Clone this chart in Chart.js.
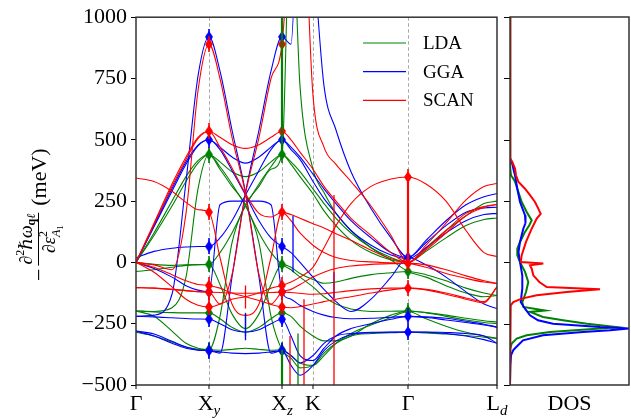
<!DOCTYPE html>
<html>
<head>
<meta charset="utf-8">
<script src="https://cdn.jsdelivr.net/npm/chart.js@4.4.1/dist/chart.umd.min.js"></script>
<style>
  html, body { margin: 0; padding: 0; background: #fff; }
  #wrap { position: relative; width: 631px; height: 418px; }
  #bands { position: absolute; left: 0; top: 0; }
  #dos { position: absolute; left: 500px; top: 0; }
  #probe { position: absolute; left: -999px; top: 0; font-family: "Liberation Serif"; }
</style>
</head>
<body>
<div id="wrap">
  <canvas id="bands" width="631" height="418"></canvas>
  <canvas id="dos" width="131" height="418"></canvas>
</div>
<span id="probe">Γ ∂ℏω 1000</span>
<script>
// path coordinate of each sample (high-symmetry points at 0, 73, 146, 177, 272, 361)
const pathPos = [0, 18, 36, 50, 62, 73, 84, 96, 109.5, 123, 135, 146, 155, 164, 177, 188, 200, 215, 235, 255, 272, 290, 310, 330, 348, 361];
const xTickPos = [0, 73, 146, 177, 272, 361];
const xTickMain = ['Γ', 'X', 'X', 'K', 'Γ', 'L'];
const xTickSub = ['', 'y', 'z', '', '', 'd'];
const yTicks = [-500, -250, 0, 250, 500, 750, 1000];

// LDA bands (meV) read at pathPos
const ldaBands = [
  [-198,-200,-185,-60,300,440,380,310,235,80,-220,-356,-390,-430,-420,-370,-330,-300,-290,-287,-285,-288,-292,-298,-305,-310],
  [-285,-300,-325,-345,-354,-356,-220,80,235,310,380,440,1500,720,380,285,200,130,60,10,-37,-60,-95,-125,-140,-135],
  [0,120,250,350,415,440,410,370,350,370,410,440,410,370,300,240,180,120,60,20,0,60,130,190,240,250],
  [0,110,230,330,405,440,390,320,230,120,40,-8,-30,-60,-100,-140,-170,-190,-200,-199,-198,-205,-215,-228,-238,-243],
  [-37,-30,-20,-12,-9,-8,40,120,230,320,390,440,400,350,280,210,150,90,40,10,0,45,100,150,175,181],
  [-198,-202,-205,-206,-206,-206,-230,-265,-285,-265,-230,-206,-220,-260,-300,-320,-320,-300,-250,-215,-198,-205,-220,-235,-245,-250],
  [-198,-220,-280,-330,-350,-356,-358,-355,-350,-355,-358,-356,-380,-410,-420,-380,-330,-290,-255,-225,-200,-230,-260,-285,-300,-310],
  [0,-8,-12,-10,-9,-8,-90,-210,-270,-210,-90,-8,-20,-45,-70,-85,-80,-65,-50,-42,-37,-50,-75,-105,-125,-135]
];

// GGA bands
const ggaBands = [
  [-220,-215,-130,330,760,920,780,540,285,-60,-370,-360,-420,-460,-420,-360,-320,-295,-285,-284,-284,-285,-290,-300,-315,-330],
  [-280,-292,-322,-345,-357,-360,-370,-60,285,540,780,920,890,1600,1250,720,540,370,220,100,20,80,150,205,222,225],
  [0,150,300,410,478,500,470,430,405,430,470,500,470,430,360,300,240,170,100,40,20,90,170,235,268,281],
  [0,145,290,400,475,500,460,375,275,170,100,65,40,0,-60,-110,-160,-200,-150,-60,20,-10,-60,-120,-170,-188],
  [19,45,58,63,65,65,100,170,275,375,460,500,460,420,330,260,200,130,70,30,15,60,120,170,195,200],
  [0,-25,-60,-95,-113,-120,235,250,250,250,235,-120,-150,-175,-200,-215,-225,-230,-228,-224,-220,-225,-235,-245,-255,-264],
  [-220,-222,-226,-229,-231,-232,-250,-275,-284,-275,-250,-232,-300,-380,-400,-350,-300,-270,-250,-232,-220,-222,-228,-240,-252,-264],
  [-280,-300,-330,-350,-358,-360,-365,-370,-372,-370,-365,-360,-380,-410,-380,-330,-300,-290,-287,-285,-284,-284,-286,-290,-300,-330]
];

// SCAN bands
const scanBands = [
  [0,-10,-30,200,700,890,750,510,280,-50,-170,-121,-110,-90,-60,-40,-25,-15,-8,-5,-4,-10,-30,-55,-75,-86],
  [-103,-105,-110,-115,-119,-121,-170,-50,280,510,750,890,1400,1700,680,470,400,330,230,110,0,70,160,255,310,322],
  [0,160,320,430,510,535,510,480,465,480,510,535,500,450,380,310,250,180,110,40,0,55,130,200,228,236],
  [0,155,310,420,505,535,470,385,280,200,185,205,195,180,158,140,117,90,50,15,0,50,120,190,225,236],
  [344,330,290,245,215,205,20,-170,-216,-170,20,205,170,120,70,40,20,8,2,-2,-4,-20,-45,-65,-80,-86],
  [0,-40,-100,-150,-175,-182,-170,-150,-140,-125,-105,-94,-80,-60,-20,60,150,240,310,340,348,320,250,130,40,24],
  [0,-20,-50,-75,-90,-94,-105,-125,-140,-155,-172,-182,-185,-180,-170,-160,-150,-140,-125,-112,-105,-110,-125,-145,-160,-100],
  [-103,-105,-110,-115,-119,-121,-123,-125,-126,-125,-123,-121,-123,-126,-130,-128,-122,-115,-108,-105,-105,-112,-130,-150,-165,-100]
];

// computed points at X_y / X_z and at the second Gamma
const ldaAtX = [440, -8, -206, -356];
const ldaAtG = [-37, -198];
const ggaAtX = [920, 500, 65, -120, -232, -360];
const ggaAtG = [20, -220, -284];
const scanAtX = [890, 535, 205, -94, -121, -182];
const scanAtG = [348, -4, -105];

// vertical bars (path position, low, high)
const ldaBarX = [146, 146, 109.5, 162];
const ldaBarLo = [440, -600, -300, -600];
const ldaBarHi = [1100, -356, -205, -290];
const ggaBarX = [109.5, 198, 157];
const ggaBarLo = [-318, -145, -40];
const ggaBarHi = [-208, -40, 190];
const scanBarX = [272, 109.5, 198, 154, 168];
const scanBarLo = [0, -188, -600, -600, -600];
const scanBarHi = [360, -94, 275, -300, -150];

// density of states (energy, dos)
const ldaDosE = [1000,400,382,355,341,329,300,246,205,171,151,124,83,56,29,1,-39,-80,-121,-162,-182,-196,-202,-223,-236,-250,-264,-270,-284,-297,-311,-331,-352,-500];
const ldaDos  = [0,0,0.5,1,3.3,5,7.3,11.7,16.7,21.7,19.3,15,10,7.3,7.3,10,15,18.3,16,12.3,13.3,35,20,33,53,77,107,90,40,16.7,6.7,1.7,0.3,0];
const ggaDosE = [1000,425,409,396,382,355,300,246,192,160,137,83,42,1,-53,-107,-162,-189,-216,-236,-250,-264,-270,-277,-284,-297,-318,-338,-358,-379,-420,-500];
const ggaDos  = [0,0,1.7,2.7,3.3,5,7.3,10,15,15.5,13.3,10,8.5,10,12.3,12.3,10.7,15,20,28,43,90,119,100,73,33,13,8,3.3,1,0.3,0];
const scanDosE = [1000,430,422,409,382,355,329,300,274,246,219,198,178,137,83,29,1,-5,-12,-26,-53,-80,-101,-110,-121,-134,-148,-162,-175,-189,-500];
const scanDos  = [0,0,0.5,2.3,5,6,8.3,15,20,25,28.3,30.7,26.7,21.7,16,11.7,10.7,33.3,20,21.7,23.3,29.3,36.7,90,56.7,26.7,11.7,3.3,0.7,0,0];

const GREEN = '#008000', BLUE = '#0000ff', RED = '#ff0000';
const SERIF = '"Liberation Serif", "DejaVu Serif", serif';

function thinDiamond(color) {
  const c = document.createElement('canvas');
  c.width = 8; c.height = 16;
  const g = c.getContext('2d');
  g.fillStyle = color;
  g.beginPath();
  g.moveTo(4, 2); g.lineTo(8, 8); g.lineTo(4, 14); g.lineTo(0, 8);
  g.closePath();
  g.fill();
  g.fillRect(3.2, 0, 1.6, 16);
  return c;
}

function bandSets(bands, color) {
  return bands.map(b => ({
    data: b.map((v, i) => ({ x: pathPos[i], y: v })),
    borderColor: color,
    borderWidth: 1.1,
    pointRadius: 0,
    cubicInterpolationMode: 'monotone',
    fill: false,
    clip: 0
  }));
}

function markerSet(atX, atG, color) {
  const pts = [];
  atX.forEach(v => pts.push({ x: xTickPos[1], y: v }));
  atX.forEach(v => pts.push({ x: xTickPos[2], y: v }));
  atG.forEach(v => pts.push({ x: xTickPos[4], y: v }));
  return {
    data: pts,
    showLine: false,
    pointStyle: thinDiamond(color),
    pointRadius: 5,
    backgroundColor: color,
    borderColor: color,
    clip: 0
  };
}

const barGroups = [
  { x: ldaBarX, lo: ldaBarLo, hi: ldaBarHi, color: GREEN },
  { x: ggaBarX, lo: ggaBarLo, hi: ggaBarHi, color: BLUE },
  { x: scanBarX, lo: scanBarLo, hi: scanBarHi, color: RED }
];

const guidePlugin = {
  id: 'guides',
  beforeDatasetsDraw(chart) {
    const { ctx, chartArea, scales } = chart;
    ctx.save();
    ctx.strokeStyle = '#a8a8a8';
    ctx.lineWidth = 1;
    ctx.setLineDash([3.5, 2.5]);
    xTickPos.slice(1, 5).forEach(p => {
      const x = Math.round(scales.x.getPixelForValue(p)) + 0.5;
      ctx.beginPath();
      ctx.moveTo(x, chartArea.top);
      ctx.lineTo(x, chartArea.bottom);
      ctx.stroke();
    });
    ctx.restore();
  },
  afterDatasetsDraw(chart) {
    const { ctx, chartArea, scales } = chart;
    ctx.save();
    ctx.beginPath();
    ctx.rect(chartArea.left, chartArea.top, chartArea.right - chartArea.left, chartArea.bottom - chartArea.top);
    ctx.clip();
    barGroups.forEach(g => {
      ctx.strokeStyle = g.color;
      g.x.forEach((p, i) => {
        const x = scales.x.getPixelForValue(p);
        ctx.lineWidth = xTickPos.includes(p) ? 2.2 : 1.3;
        ctx.beginPath();
        ctx.moveTo(x, scales.y.getPixelForValue(g.lo[i]));
        ctx.lineTo(x, scales.y.getPixelForValue(g.hi[i]));
        ctx.stroke();
      });
    });
    ctx.restore();
  },
  afterDraw(chart) {
    const { ctx, chartArea, scales } = chart;
    const { left, right, top, bottom } = chartArea;
    ctx.save();
    // frame
    ctx.strokeStyle = '#333';
    ctx.lineWidth = 1.5;
    ctx.strokeRect(left, top, right - left, bottom - top);
    // x ticks and labels
    ctx.fillStyle = '#000';
    ctx.strokeStyle = '#000';
    ctx.lineWidth = 1;
    xTickPos.forEach((p, i) => {
      const x = scales.x.getPixelForValue(p);
      ctx.beginPath();
      ctx.moveTo(x, bottom);
      ctx.lineTo(x, bottom + 4);
      ctx.stroke();
      ctx.font = '22px ' + SERIF;
      const wMain = ctx.measureText(xTickMain[i]).width;
      ctx.font = 'italic 15px ' + SERIF;
      const wSub = xTickSub[i] ? ctx.measureText(xTickSub[i]).width : 0;
      const x0 = x - (wMain + wSub) / 2;
      ctx.textBaseline = 'alphabetic';
      ctx.textAlign = 'left';
      ctx.font = '22px ' + SERIF;
      ctx.fillText(xTickMain[i], x0, 410);
      if (xTickSub[i]) {
        ctx.font = 'italic 15px ' + SERIF;
        ctx.fillText(xTickSub[i], x0 + wMain, 415);
      }
    });
    // legend
    const entries = [['LDA', GREEN], ['GGA', BLUE], ['SCAN', RED]];
    entries.forEach((e, i) => {
      const y = 43 + i * 28.7;
      ctx.strokeStyle = e[1];
      ctx.lineWidth = 1.2;
      ctx.beginPath();
      ctx.moveTo(363, y);
      ctx.lineTo(406, y);
      ctx.stroke();
      ctx.font = '19px ' + SERIF;
      ctx.textBaseline = 'middle';
      ctx.fillStyle = '#000';
      ctx.fillText(e[0], 423, y + 1);
    });
    drawYTitle(ctx);
    ctx.restore();
  }
};

function runWidth(ctx, runs) {
  let w = 0;
  runs.forEach(r => { ctx.font = r.f; if (!r.stay) w += ctx.measureText(r.t).width; });
  return w;
}
function drawRuns(ctx, runs, x, y) {
  runs.forEach(r => {
    ctx.font = r.f;
    ctx.fillText(r.t, x, y + (r.dy || 0));
    if (!r.stay) x += ctx.measureText(r.t).width;
  });
}

function drawYTitle(ctx) {
  ctx.save();
  ctx.translate(46, 281);
  ctx.rotate(-Math.PI / 2);
  ctx.fillStyle = '#000';
  ctx.strokeStyle = '#000';
  ctx.textBaseline = 'alphabetic';
  ctx.textAlign = 'left';
  ctx.font = '22px ' + SERIF;
  ctx.fillText('−', 0, 0);
  const x0 = ctx.measureText('−').width + 3;
  const num = [
    { t: '∂', f: 'italic 18px ' + SERIF },
    { t: '2', f: '12px ' + SERIF, dy: -8 },
    { t: 'ℏ', f: 'italic 18px ' + SERIF },
    { t: 'ω', f: 'italic 18px ' + SERIF },
    { t: 'q', f: 'bold 12px ' + SERIF, dy: 3 },
    { t: 'ℓ', f: 'italic 12px ' + SERIF, dy: 3 }
  ];
  const den = [
    { t: '∂', f: 'italic 18px ' + SERIF },
    { t: 'ε', f: 'italic 18px ' + SERIF },
    { t: '2', f: '12px ' + SERIF, dy: -8, stay: true },
    { t: 'A', f: 'italic 12px ' + SERIF, dy: 5 },
    { t: '1', f: '9px ' + SERIF, dy: 8 }
  ];
  const wn = runWidth(ctx, num), wd = runWidth(ctx, den);
  const W = Math.max(wn, wd) + 2;
  drawRuns(ctx, num, x0 + (W - wn) / 2, -14);
  drawRuns(ctx, den, x0 + (W - wd) / 2, 9);
  ctx.lineWidth = 1;
  ctx.beginPath();
  ctx.moveTo(x0, -7.5);
  ctx.lineTo(x0 + W, -7.5);
  ctx.stroke();
  ctx.font = '22px ' + SERIF;
  ctx.fillText('(meV)', x0 + W + 7, 0);
  ctx.restore();
}

const datasets = [
  markerSet(scanAtX, scanAtG, RED),
  markerSet(ggaAtX, ggaAtG, BLUE),
  markerSet(ldaAtX, ldaAtG, GREEN),
  ...bandSets(scanBands, RED),
  ...bandSets(ggaBands, BLUE),
  ...bandSets(ldaBands, GREEN)
];

function dosSet(e, d, color) {
  return {
    data: e.map((v, i) => ({ x: d[i], y: v })),
    borderColor: color,
    borderWidth: 2,
    pointRadius: 0,
    tension: 0,
    fill: false,
    clip: 0
  };
}

const dosFrame = {
  id: 'dosFrame',
  afterDraw(chart) {
    const { ctx, chartArea, scales } = chart;
    const { left, right, top, bottom } = chartArea;
    ctx.save();
    ctx.strokeStyle = '#000';
    ctx.lineWidth = 1;
    yTicks.forEach(v => {
      const y = Math.round(scales.y.getPixelForValue(v)) + 0.5;
      ctx.beginPath();
      ctx.moveTo(left - 6, y);
      ctx.lineTo(left, y);
      ctx.stroke();
    });
    ctx.strokeStyle = '#333';
    ctx.lineWidth = 1.5;
    ctx.strokeRect(left, top, right - left, bottom - top);
    ctx.fillStyle = '#000';
    ctx.font = '22px ' + SERIF;
    ctx.textAlign = 'center';
    ctx.textBaseline = 'alphabetic';
    ctx.fillText('DOS', (left + right) / 2, 410);
    ctx.restore();
  }
};

function build() {
  new Chart(document.getElementById('bands'), {
    type: 'line',
    data: { datasets: datasets },
    options: {
      responsive: false,
      animation: false,
      events: [],
      layout: { padding: { left: 0, right: 134, top: 17, bottom: 0 } },
      plugins: { legend: { display: false }, tooltip: { enabled: false } },
      scales: {
        x: {
          type: 'linear',
          min: 0,
          max: 361,
          grid: { display: false },
          border: { display: false },
          ticks: { display: false },
          afterFit: s => { s.height = 33; }
        },
        y: {
          type: 'linear',
          min: -500,
          max: 1000,
          afterBuildTicks: s => { s.ticks = yTicks.map(v => ({ value: v })); },
          afterFit: s => { s.width = 136; },
          border: { display: false },
          grid: { drawOnChartArea: false, drawTicks: true, tickLength: 5, color: '#000', lineWidth: 1 },
          ticks: {
            padding: 4,
            color: '#000',
            font: { family: SERIF, size: 22 },
            callback: v => String(v).replace('-', '−')
          }
        }
      }
    },
    plugins: [guidePlugin]
  });

  new Chart(document.getElementById('dos'), {
    type: 'line',
    data: {
      datasets: [
        dosSet(scanDosE, scanDos, RED),
        dosSet(ggaDosE, ggaDos, BLUE),
        dosSet(ldaDosE, ldaDos, GREEN)
      ]
    },
    options: {
      responsive: false,
      animation: false,
      events: [],
      layout: { padding: { left: 10, right: 2, top: 17, bottom: 33 } },
      plugins: { legend: { display: false }, tooltip: { enabled: false } },
      scales: {
        x: { type: 'linear', display: false, min: 0, max: 119 },
        y: { type: 'linear', display: false, min: -500, max: 1000 }
      }
    },
    plugins: [dosFrame]
  });
}

Promise.all([
  document.fonts.load('22px "Liberation Serif"'),
  document.fonts.load('italic 22px "Liberation Serif"')
]).then(build, build);
</script>
</body>
</html>
